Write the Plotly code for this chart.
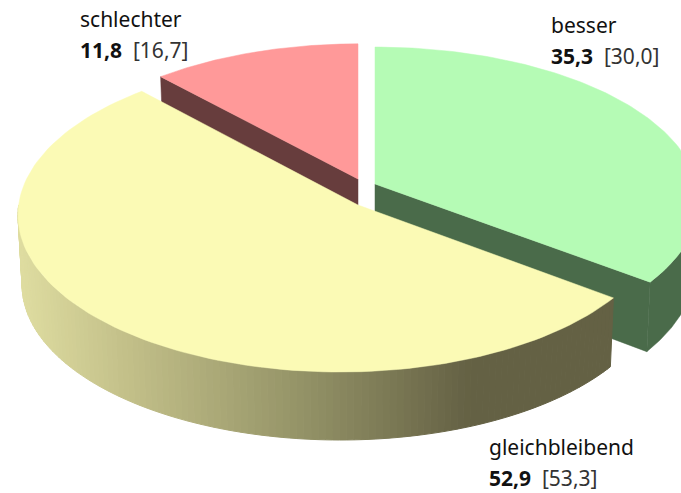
import math
import plotly.graph_objects as go

labels = ["besser", "gleichbleibend", "schlechter"]
values = [35.3, 52.9, 11.8]
previous = ["30,0", "53,3", "16,7"]
value_text = ["35,3", "52,9", "11,8"]
top_colors = ["#B5FBB5", "#FBFAB5", "#FF9999"]
wall_colors = ["#4A6B4A", None, "#673D3D"]

# wedge placement (exploded pie) in pixels
APEX = [(375, 184), (358, 205), (358, 179)]
AX = [322, 322, 316]
BY = [152, 155, 150]
K = 0.11
S = 0.988
H = [66, 70, 66]
# the front wedge is cut from its own rim ellipse: centre x, centre y, half width, half height
RIM = {1: (340, 215, 322, 157)}
LABEL_POS = [(549, 25, 56), (487, 447, 478), (78, 19, 50)]
GREEN_WALL_FROM = 80
YELLOW_WALL_TO = 270


def pt(i, deg):
    t = math.radians(deg)
    X, Y = math.sin(t), math.cos(t)
    if i in RIM:
        cx, cy, a, b = RIM[i]
        dx, dy = AX[i] * X, -BY[i] * Y
        ox, oy = APEX[i][0] - cx, APEX[i][1] - cy
        qa = (dx / a) ** 2 + (dy / b) ** 2
        qb = 2 * (ox * dx / a ** 2 + oy * dy / b ** 2)
        qc = (ox / a) ** 2 + (oy / b) ** 2 - 1
        r = (-qb + math.sqrt(qb * qb - 4 * qa * qc)) / (2 * qa)
        return APEX[i][0] + r * dx, APEX[i][1] + r * dy, 1.0
    w = 1 + K * Y
    return APEX[i][0] + AX[i] * X / w, APEX[i][1] - BY[i] * Y / w, w


def bottom(i, p):
    x, y, w = p
    return APEX[i][0] + S * (x - APEX[i][0]), APEX[i][1] + S * (y - APEX[i][1]) + H[i] / w


def arc(i, a0, a1, n):
    return [pt(i, a0 + (a1 - a0) * j / n) for j in range(n + 1)]


def poly(fig, xs, ys, color, lw=0):
    fig.add_trace(go.Scatter(x=xs + xs[:1], y=ys + ys[:1], mode="lines", fill="toself",
                             fillcolor=color, line=dict(color=color, width=lw),
                             hoverinfo="skip", showlegend=False))


def yellow_wall(x):
    stops = [(20, (222, 220, 160)), (120, (196, 193, 138)), (300, (148, 147, 103)), (470, (100, 97, 68)), (620, (100, 97, 68))]
    for (x0, c0), (x1, c1) in zip(stops, stops[1:]):
        if x <= x1:
            f = max(0, (x - x0) / (x1 - x0))
            return "rgb(%d,%d,%d)" % tuple(round(a + (b - a) * f) for a, b in zip(c0, c1))
    return "rgb(100,97,68)"


total = sum(values)
angles = [0]
for v in values:
    angles.append(angles[-1] + 360 * v / total)

fig = go.Figure()


def top_face(i):
    a = arc(i, angles[i], angles[i + 1], 120)
    poly(fig, [APEX[i][0]] + [p[0] for p in a], [APEX[i][1]] + [p[1] for p in a], top_colors[i], 0.5)


def apex_bottom(i):
    return APEX[i][0], APEX[i][1] + H[i]


def cut_wall(i, deg):
    p = pt(i, deg)
    b = bottom(i, p)
    ab = apex_bottom(i)
    poly(fig, [APEX[i][0], p[0], b[0], ab[0]], [APEX[i][1], p[1], b[1], ab[1]], wall_colors[i], 0.5)


# schlechter (back left)
cut_wall(2, angles[2])
top_face(2)

# besser (right)
a = arc(0, GREEN_WALL_FROM, angles[1], 80)
bs = [bottom(0, p) for p in a]
poly(fig, [p[0] for p in a] + [b[0] for b in bs[::-1]], [p[1] for p in a] + [b[1] for b in bs[::-1]], wall_colors[0], 0.5)
cut_wall(0, angles[1])
top_face(0)

# gleichbleibend (front) with a shaded outer wall
a = arc(1, angles[1], YELLOW_WALL_TO, 120)
for p, q in zip(a, a[1:]):
    bp, bq = bottom(1, p), bottom(1, q)
    poly(fig, [p[0], q[0], bq[0], bp[0]], [p[1], q[1], bq[1], bp[1]], yellow_wall((p[0] + q[0]) / 2), 1)
top_face(1)

for i, name in enumerate(labels):
    x, y1, y2 = LABEL_POS[i]
    fig.add_annotation(x=x, y=y1, text=name, showarrow=False, xanchor="left", yanchor="middle",
                       font=dict(family="Noto Sans", size=21, color="#111111"))
    fig.add_annotation(x=x, y=y2, showarrow=False, xanchor="left", yanchor="middle",
                       text="<b>%s</b>  <span style='color:#333333'>[%s]</span>" % (value_text[i], previous[i]),
                       font=dict(family="Noto Sans", size=21, color="#111111"))

fig.update_xaxes(range=[0, 681], visible=False, fixedrange=True)
fig.update_yaxes(range=[493, 0], visible=False, fixedrange=True)
fig.update_layout(width=681, height=493, margin=dict(l=0, r=0, t=0, b=0), plot_bgcolor="white", paper_bgcolor="white")
fig.write_html("out.html", config={"displayModeBar": False},
               post_script="document.body.style.margin='0';document.body.style.overflow='hidden';")
